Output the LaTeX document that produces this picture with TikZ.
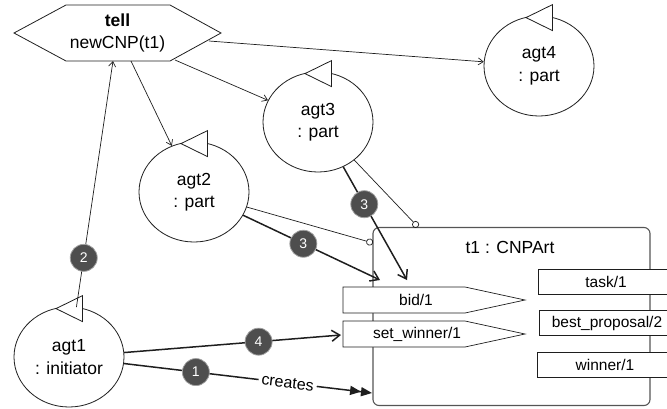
\documentclass[tikz,border=0pt]{standalone}
\usepackage{fontspec}
\setmainfont{Liberation Sans}
\usetikzlibrary{arrows.meta,calc,shapes.geometric}

\definecolor{ink}{HTML}{1E1E1E}
\definecolor{frame}{HTML}{555555}
\definecolor{badgefill}{HTML}{4E4E4E}
\definecolor{badgerim}{HTML}{A0A0A0}

\tikzset{
  agent/.style={ellipse, draw=ink, line width=0.8pt, fill=white,
    minimum width=110, minimum height=100, inner sep=0pt, align=center,
    font=\fontsize{17.5}{22.5}\selectfont},
  badge/.style={circle, fill=badgefill, draw=badgerim, line width=0.8pt,
    text=white, minimum size=27, inner sep=0pt,
    font=\fontsize{14}{14}\selectfont},
  thinlink/.style={draw=ink, line width=0.7pt},
  thicklink/.style={draw=ink, line width=1.5pt},
  smallhead/.style={-{Straight Barb[length=5,width=7]}},
  bighead/.style={-{Straight Barb[length=8,width=11]}},
  ringhead/.style={-{Circle[open,length=7,width=7]}},
  fieldbox/.style={draw=ink, line width=0.7pt, fill=white},
  fieldtext/.style={inner sep=0pt, font=\fontsize{15.5}{18}\selectfont},
  slotbox/.style={draw=ink, line width=0.7pt, fill=white, minimum width=136,
    minimum height=25, inner sep=0pt, font=\fontsize{15.5}{18}\selectfont},
}

% triangular marker sitting on top of an agent
\newcommand\agentflag[1]{%
  \draw[draw=ink, line width=0.8pt, fill=white]
    ($(#1.north)+(-13,2)$) -- ($(#1.north)+(13.5,-11)$) --
    ($(#1.north)+(13.5,15)$) -- cycle;}

\begin{document}
\begin{tikzpicture}[x=1pt,y=-1pt]
\useasboundingbox (0,0) rectangle (667,408);
\clip (0,0) rectangle (667,408);

% ---- artifact t1 ----
\node[draw=frame, line width=1.1pt, rounded corners=6, minimum width=277,
      minimum height=178, inner sep=0pt] (art) at (511.5,316.5) {};
\node[font=\fontsize{17.5}{20}\selectfont, inner sep=0pt] (arttitle) at (510,247) {t1 : CNPArt};

% operations (left) and observable properties (right)
\draw[fieldbox] (343,287) -- (465,287) -- (525,300) -- (465,313) -- (343,313) -- cycle;
\node[fieldtext] (bid) at (416,300) {bid/1};
\draw[fieldbox] (343,321) -- (465,321) -- (525,334) -- (465,347) -- (343,347) -- cycle;
\node[fieldtext] (setwin) at (417,334) {set\_winner/1};

\node[slotbox] (task) at (606,281.5) {task/1};
\node[slotbox] (best) at (607,323) {best\_proposal/2};
\node[slotbox] (winner) at (605,364.5) {winner/1};

% ---- tell message ----
\node[inner sep=0pt, minimum width=104, minimum height=56, align=center,
      font=\fontsize{17.5}{22.5}\selectfont] (tell) at (117.5,33)
      {\textbf{tell}\\newCNP(t1)};
\draw[draw=ink, line width=0.8pt]
  (66,5) -- (170,5) -- (221,33) -- (170,61) -- (66,61) -- (14,33) -- cycle;

% ---- agents ----
\node[agent] (agt1) at (69,357) {agt1\\: initiator};
\node[agent] (agt2) at (194,192) {agt2\\: part};
\node[agent] (agt3) at (318,122) {agt3\\: part};
\node[agent] (agt4) at (539,66) {agt4\\: part};
\agentflag{agt1}
\agentflag{agt2}
\agentflag{agt3}
\agentflag{agt4}

% ---- attachment points ----
\coordinate (hx1) at (113,61);
\coordinate (hx2) at (131,61);
\coordinate (hx3) at (175,60);
\coordinate (hx4) at (209,41);
\coordinate (artW) at (373,243);
\coordinate (artN) at (418,227);
\coordinate (bidA) at (380,280);
\coordinate (bidB) at (407,280);
\coordinate (swin) at (341,335);
\coordinate (artC) at (372,393);

% ---- broadcast of the message ----
\draw[thinlink, smallhead] (hx2) -- (agt2);
\draw[thinlink, smallhead] (hx3) -- (agt3);
\draw[thinlink, smallhead] (hx4) -- (agt4);
\draw[thinlink, smallhead] (agt1) -- (hx1) node[badge, pos=0.2] {2};

% ---- focus on the artifact ----
\draw[thinlink, ringhead] (agt2) -- (artW);
\draw[thinlink, ringhead] (agt3) -- (artN);

% ---- bids ----
\draw[thicklink, bighead] (agt2) -- (bidA) node[badge, pos=0.44] {3};
\draw[thicklink, bighead] (agt3) -- (bidB) node[badge, pos=0.33] {3};

% ---- winner selection and creation ----
\draw[thicklink, bighead] (agt1) -- (swin) node[badge, pos=0.62] {4};
\draw[thicklink, -{Triangle[length=11,width=9]Triangle[length=11,width=9]}]
  (agt1) -- (artC)
  node[badge, pos=0.29] {1}
  node[pos=0.66, sloped, fill=white, inner sep=3pt,
       font=\fontsize{16}{16}\selectfont] {creates};
\end{tikzpicture}
\end{document}
